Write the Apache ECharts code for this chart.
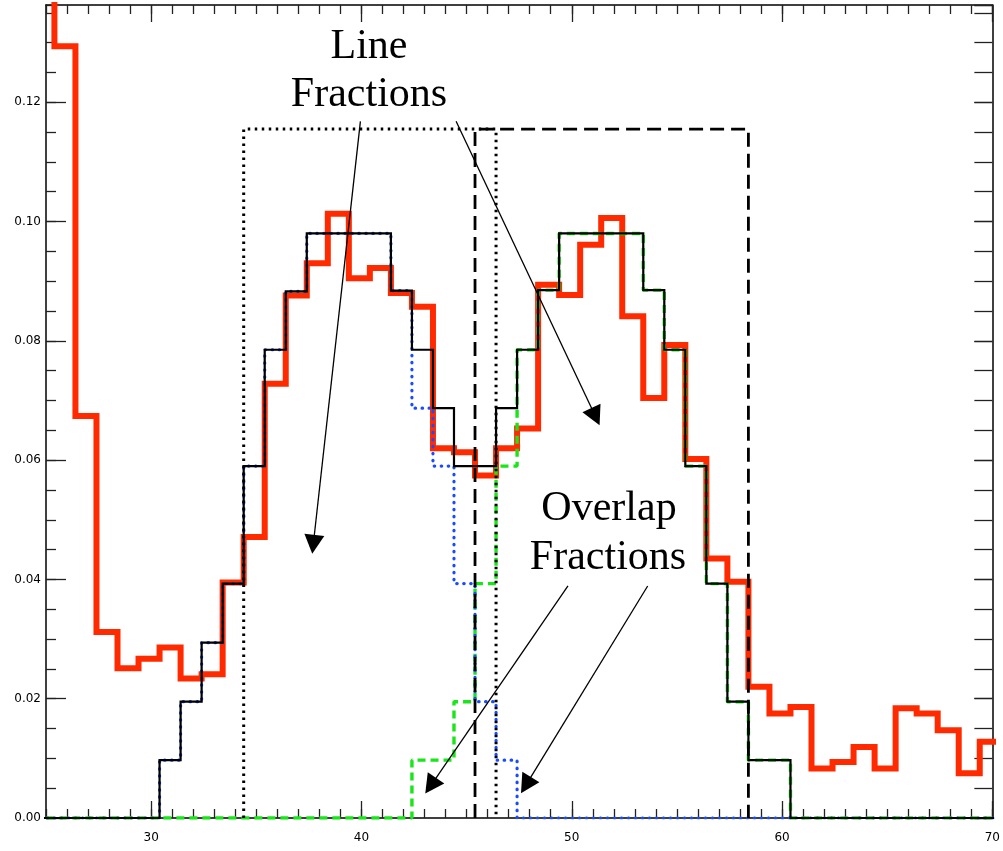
<!DOCTYPE html>
<html><head><meta charset="utf-8">
<script src="https://cdn.jsdelivr.net/npm/echarts@6/dist/echarts.min.js"></script>
<style>html,body{margin:0;padding:0;background:#fff}#c{width:1003px;height:851px}</style>
</head><body><div id="c"></div>
<script>
// Left edges of the 1-unit histogram bins
const binStarts = [24.4,25.4,26.4,27.4,28.4,29.4,30.4,31.4,32.4,33.4,34.4,35.4,36.4,37.4,38.4,39.4,40.4,41.4,42.4,43.4,44.4,45.4,46.4,47.4,48.4,49.4,50.4,51.4,52.4,53.4,54.4,55.4,56.4,57.4,58.4,59.4,60.4,61.4,62.4,63.4,64.4,65.4,66.4,67.4,68.4,69.4];
// Observed (red, thick)
const observed = [0.145,0.1294,0.0674,0.0312,0.0251,0.0267,0.0286,0.0234,0.0241,0.0395,
  0.0471,0.0728,0.0876,0.093,0.1013,0.0905,0.0922,0.088,0.0857,0.062,
  0.0613,0.0574,0.062,0.0653,0.0894,0.0877,0.0961,0.1006,0.0841,0.0704,
  0.0793,0.0602,0.0435,0.0396,0.022,0.0175,0.0186,0.0083,0.0094,0.0119,
  0.0083,0.0184,0.0175,0.0147,0.0075,0.0128];
// Total model (black solid)
const totalFraction = [0,0,0,0,0,0,0.0097,0.0195,0.0294,0.0393,
  0.059,0.0785,0.0883,0.098,0.098,0.098,0.098,0.0884,0.0785,0.0687,
  0.059,0.059,0.0687,0.0785,0.0885,0.098,0.098,0.098,0.098,0.0885,
  0.0785,0.059,0.0393,0.0195,0.0097,0.0097,0,0,0,0,
  0,0,0,0,0,0];
// Line 1 (blue dotted)
const line1Fraction = [0,0,0,0,0,0,0.0097,0.0195,0.0294,0.0393,
  0.059,0.0785,0.0883,0.098,0.098,0.098,0.098,0.0884,0.0687,0.059,
  0.0393,0.0195,0.0097,0,0,0,0,0,0,0,
  0,0,0,0,0,0,0,0,0,0,
  0,0,0,0,0,0];
// Line 2 (green dashed)
const line2Fraction = [0,0,0,0,0,0,0,0,0,0,
  0,0,0,0,0,0,0,0,0.0097,0.0097,
  0.0195,0.0393,0.059,0.0785,0.0885,0.098,0.098,0.098,0.098,0.0885,
  0.0785,0.059,0.0393,0.0195,0.0097,0.0097,0,0,0,0,
  0,0,0,0,0,0];
// Integration windows
const window1 = [34.4, 46.4];
const window2 = [45.4, 58.4];
const windowTop = 0.1155;
// Tick values
const xTickLabels = [30,40,50,60,70];
const yTickLabels = [0,0.02,0.04,0.06,0.08,0.10,0.12];

function stepData(vals){
  const pts = binStarts.map((x,i)=>[x, vals[i]]);
  const last = binStarts.length-1;
  pts.push([binStarts[last]+1, vals[last]]);
  return pts;
}
function boxData(w){ return [[w[0],0],[w[0],windowTop],[w[1],windowTop],[w[1],0]]; }

const chart = echarts.init(document.getElementById('c'), null, {renderer:'canvas'});
const lineCol = '#000';
const tickStyle = {color:'#222', width:1.3};
const XMIN=25, XMAX=70, YMIN=0, YMAX=0.1363;
function xAx(pos, major, showLabel){
  return {
    type:'value', position:pos, min:XMIN, max:XMAX, interval: major?5:1,
    axisLine:{show:major, onZero:false, lineStyle:{color:lineCol, width:1.5}},
    axisTick:major?{show:true, inside:true, length:17, customValues:xTickLabels, lineStyle:tickStyle}
                  :{show:true, inside:true, length:9, lineStyle:tickStyle},
    axisLabel: showLabel ? {show:true, customValues:xTickLabels, margin:14, fontSize:12, color:'#000', fontFamily:'DejaVu Sans',
      formatter:v=> (v%10===0 && v>XMIN) ? String(v) : ''} : {show:false},
    splitLine:{show:false}
  };
}
function yAx(pos, major, showLabel, len){
  return {
    type:'value', position:pos, min:YMIN, max:YMAX, interval: major?0.02:0.005,
    axisLine:{show:major, onZero:false, lineStyle:{color:lineCol, width:1.5}},
    axisTick:{show:true, inside:true, length:len, lineStyle:tickStyle},
    axisLabel: showLabel ? {show:true, margin:5, fontSize:12, color:'#000', fontFamily:'DejaVu Sans',
      showMaxLabel:false, formatter:v=>v.toFixed(2)} : {show:false},
    splitLine:{show:false}
  };
}

const arrows = [
  [{coord:[39.95,0.1168]},{coord:[37.71,0.0459]}],
  [{coord:[44.50,0.1168]},{coord:[51.13,0.0673]}],
  [{coord:[49.82,0.0389]},{coord:[43.29,0.0054]}],
  [{coord:[53.61,0.0389]},{coord:[47.82,0.0055]}]
];

const textStyleBase = {fill:'#000', font:'42px "Liberation Serif","DejaVu Serif",serif', textAlign:'center', textVerticalAlign:'middle'};

chart.setOption({
  animation:false,
  backgroundColor:'#fff',
  grid:{left:46, right:7, top:5, bottom:33, containLabel:false},
  xAxis:[xAx('bottom',true,true), xAx('bottom',false,false), xAx('top',true,false), xAx('top',false,false)],
  yAxis:[yAx('left',true,true,20), yAx('left',false,false,10), yAx('right',true,false,18), yAx('right',false,false,18)],
  series:[
    {type:'line', name:'observed', data:stepData(observed), step:'end', showSymbol:false, clip:true,
      lineStyle:{color:'#ff2a00', width:6, join:'miter', cap:'butt'}, z:2},
    {type:'line', name:'line2', data:stepData(line2Fraction), step:'end', showSymbol:false,
      lineStyle:{color:'#19e619', width:3.4, type:[8,5]}, z:3},
    {type:'line', name:'line1', data:stepData(line1Fraction), step:'end', showSymbol:false,
      lineStyle:{color:'#1a4cff', width:3.2, type:[0.5,6.5], cap:'round'}, z:4},
    {type:'line', name:'total', data:stepData(totalFraction), step:'end', showSymbol:false,
      lineStyle:{color:'#000', width:2.2, join:'miter'}, z:5},
    {type:'line', name:'window1', data:boxData(window1), showSymbol:false,
      lineStyle:{color:'#000', width:3, type:[2.5,4.5]}, z:6,
      markLine:{silent:true, symbol:['none','triangle'], symbolSize:[20,19],
        label:{show:false}, lineStyle:{color:'#000', width:1.3, type:'solid'},
        itemStyle:{color:'#000'}, emphasis:{disabled:true}, data:arrows}},
    {type:'line', name:'window2', data:boxData(window2), showSymbol:false,
      lineStyle:{color:'#000', width:2.8, type:[14,7]}, z:6}
  ],
  graphic:[
    {type:'text', x:369, y:46.5, style:Object.assign({text:'Line'}, textStyleBase), z:100},
    {type:'text', x:369, y:94.5, style:Object.assign({text:'Fractions'}, textStyleBase), z:100},
    {type:'text', x:609, y:509, style:Object.assign({text:'Overlap'}, textStyleBase), z:100},
    {type:'text', x:608, y:558, style:Object.assign({text:'Fractions'}, textStyleBase), z:100}
  ]
});
</script></body></html>
